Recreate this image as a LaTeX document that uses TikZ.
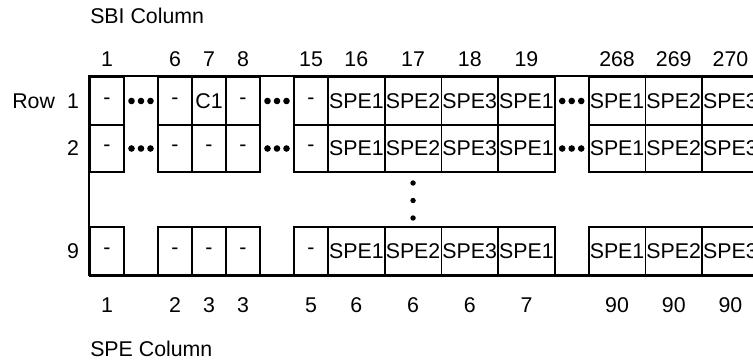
\documentclass[tikz,border=0pt]{standalone}
\usepackage{fontspec}
\setmainfont{Liberation Sans}
\begin{document}
\begin{tikzpicture}[x=.75pt,y=-.75pt,
	every node/.style={font=\fontsize{16}{19}\selectfont,inner sep=0pt},
	cell/.style={draw,line width=1.2pt,minimum height=#1*.75pt}]
	\useasboundingbox (0,0) rectangle (753,362);
	\clip (0,0) rectangle (753,362);
	\node [anchor=west] (sbititle) at (90,15.5) {SBI Column};
	\node [anchor=west] (spetitle) at (90,348.5) {SPE Column};
	\node [anchor=west] (rowword) at (12,101) {Row};
	\node (row1) at (73,101) {1};
	\node (row2) at (73,148.5) {2};
	\node (row9) at (73,251) {9};
	% one column of cells: name, centre, width, texts of rows 1, 2, 9, SBI, SPE
	\foreach \c/\x/\w/\ta/\tb/\tc/\sbi/\spe in {1/107/34/-/-/-/1/1, 6/175/34/-/-/-/6/2, 7/209/34/C1/-/-/7/3, 8/243/34/-/-/-/8/3, 15/311/34/-/-/-/15/5,
		16/356.35/56.7/SPE1/SPE1/SPE1/16/6, 17/413.05/56.7/SPE2/SPE2/SPE2/17/6, 18/469.75/56.7/SPE3/SPE3/SPE3/18/6, 19/526.45/56.7/SPE1/SPE1/SPE1/19/7,
		268/617.05/56.7/SPE1/SPE1/SPE1/268/90, 269/673.75/56.7/SPE2/SPE2/SPE2/269/90, 270/730.45/56.7/SPE3/SPE3/SPE3/270/90} {
		\node [cell=48, minimum width=\w*.75pt] (r1c\c) at (\x,101) {\ta};
		\node [cell=47, minimum width=\w*.75pt] (r2c\c) at (\x,148.5) {\tb};
		\node [cell=48, minimum width=\w*.75pt] (r9c\c) at (\x,251) {\tc};
		\node (sbi\c) at (\x,59) {\sbi};
		\node (spe\c) at (\x,305) {\spe};
	}
	\draw [line width=1.2pt] (r9c1.south west) -- (r1c1.north west) -- (r1c270.north east) -- (r9c270.south east);
	\draw [line width=2pt] (r9c1.south west) -- (r9c270.south east);
	% skipped columns
	\foreach \x in {141, 277, 571.7} {
		\foreach \y in {101, 148.5} {
			\foreach \dx in {-9.5, 0, 9.5} {
				\fill (\x+\dx,\y) circle (3.3);
			}
		}
	}
	% skipped rows
	\foreach \y in {183, 200.5, 218} {
		\fill (413.05,\y) circle (2.7);
	}
\end{tikzpicture}
\end{document}
